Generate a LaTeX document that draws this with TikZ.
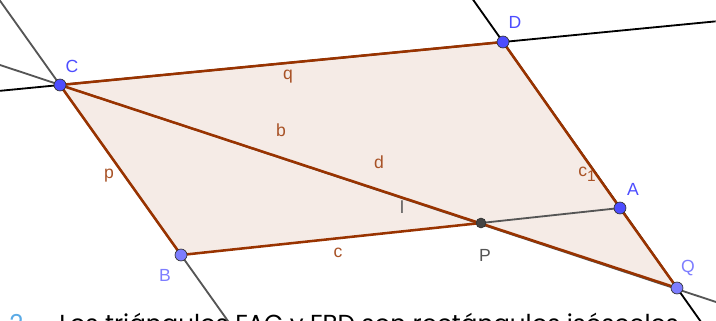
\documentclass[tikz,border=0pt]{standalone}
\usepackage{fontspec}
\setmainfont{Liberation Sans}
\newfontfamily\listfont{Poppins}
\usetikzlibrary{calc}
\definecolor{ggbrown}{RGB}{153,51,0}
\definecolor{ggfill}{RGB}{245,235,230}
\definecolor{ggblue}{RGB}{77,77,255}
\definecolor{gglight}{RGB}{125,125,255}
\definecolor{gggray}{RGB}{85,85,85}
\definecolor{listblue}{RGB}{90,170,230}

\begin{document}
\begin{tikzpicture}[
    x=0.025cm, y=-0.025cm,
    every node/.style={font=\fontsize{12.5}{14}\selectfont},
    seg/.style={draw=ggbrown, line width=1.8pt},
    blackline/.style={draw=black, line width=1.3pt},
    grayline/.style={draw=gggray, line width=1.3pt},
    pt/.style={circle, draw=black!80, line width=0.5pt, inner sep=0pt, minimum size=8.5pt},
    seglabel/.style={text=ggbrown!85},
    listtext/.style={anchor=base west, inner sep=0pt, font=\listfont\fontsize{17.5}{20}\selectfont}
  ]
    \clip (0,0) rectangle (716,321);
    \fill[white] (0,0) rectangle (716,321);

    % points
    \coordinate (C) at (60,85);
    \coordinate (D) at (503,42);
    \coordinate (A) at (620,208);
    \coordinate (Q) at (677,288);
    \coordinate (B) at (181,255);
    \coordinate (P) at (481,223);

    % free ends of the lines
    \coordinate (cdL) at ($(C)!-0.14!(D)$);
    \coordinate (cdR) at ($(C)!1.48!(D)$);
    \coordinate (cbU) at ($(C)!-0.5!(B)$);
    \coordinate (cbD) at ($(C)!1.42!(B)$);
    \coordinate (cqL) at (0,65);
    \coordinate (cqR) at (716,302);
    \coordinate (dqU) at ($(D)!-0.18!(Q)$);
    \coordinate (dqD) at ($(D)!1.16!(Q)$);

    \fill[ggfill] (C) -- (D) -- (A) -- (Q) -- (P) -- (B) -- cycle;

    \draw[blackline] (cdL) -- (cdR);
    \draw[grayline] (cbU) -- (cbD);
    \draw[grayline] (cqL) -- (cqR);
    \draw[blackline] (dqU) -- (dqD);
    \draw[grayline] (P) -- (A);

    \draw[seg] (C) -- (D);
    \draw[seg] (D) -- (A);
    \draw[seg] (A) -- (Q);
    \draw[seg] (C) -- (Q);
    \draw[seg] (B) -- (P);
    \draw[seg] (B) -- (C);

    \node[pt, fill=ggblue] (ptC) at (C) {};
    \node[pt, fill=ggblue] (ptD) at (D) {};
    \node[pt, fill=ggblue] (ptA) at (A) {};
    \node[pt, fill=gglight] (ptQ) at (Q) {};
    \node[pt, fill=gglight] (ptB) at (B) {};
    \node[pt, fill=gggray!80!black, minimum size=7pt] (ptP) at (P) {};

    % point labels
    \node[text=ggblue] (labC) at (72,66) {C};
    \node[text=ggblue] (labD) at (515,22) {D};
    \node[text=ggblue] (labA) at (633,189) {A};
    \node[text=gglight] (labQ) at (688,268) {Q};
    \node[text=gglight] (labB) at (165,275) {B};
    \node[text=gggray] (labP) at (485,255) {P};

    % segment labels
    \node[seglabel] (labp) at (109,176) {p};
    \node[seglabel] (labq) at (288,77) {q};
    \node[seglabel] (labb) at (281,130) {b};
    \node[seglabel] (labd) at (379,162) {d};
    \node[seglabel] (labc) at (338,253) {c};
    \node[seglabel] (labc1) at (587,174) {c\raisebox{-0.55ex}{\fontsize{11}{12}\selectfont 1}};
    \node[text=gggray] (labl) at (402,207) {l};

    \node[listtext, text=listblue] (itemnum) at (9,332) {2.};
    \node[listtext] (item) at (59,332) {Los triángulos FAC y FBD son rectángulos isósceles};
  \end{tikzpicture}
\end{document}
